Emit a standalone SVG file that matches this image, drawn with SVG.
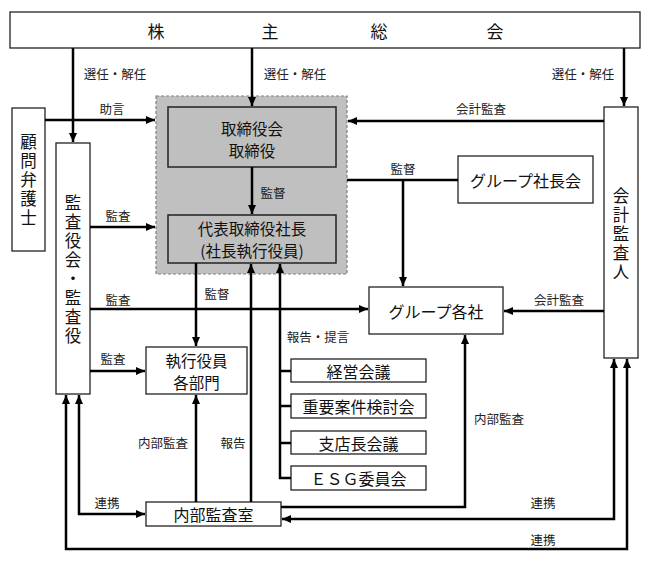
<svg xmlns="http://www.w3.org/2000/svg" width="649" height="562" viewBox="0 0 649 562">
<defs>
<marker id="ah" markerUnits="userSpaceOnUse" markerWidth="10" markerHeight="9" refX="9" refY="4" orient="auto-start-reverse">
<path d="M0,0 L9,4 L0,8 z" fill="#000"/>
</marker>
<style>
text{font-family:"Noto Sans CJK JP","Noto Sans",sans-serif;fill:#111;dominant-baseline:central;text-anchor:middle}
.box{fill:#fff;stroke:#222;stroke-width:1.3}
.gbox{fill:#bfbfbf;stroke:#222;stroke-width:1.5}
.t{font-size:16px}
.t2{font-size:15.5px}
.v{font-size:17px}
.vt{font-size:16.5px;writing-mode:vertical-rl;letter-spacing:2.5px}
.lb{font-size:12.5px;fill:#222}
.c{fill:none;stroke:#000;stroke-width:2.5}
.a{marker-end:url(#ah)}
.b{marker-start:url(#ah);marker-end:url(#ah)}
</style>
</defs>
<rect width="649" height="562" fill="#fff"/>

<g id="shareholders">
<rect class="box" x="10" y="12" width="630" height="36"/>
<text class="v" y="30"><tspan x="156">株</tspan><tspan x="270">主</tspan><tspan x="379">総</tspan><tspan x="495">会</tspan></text>
</g>

<g id="management-group">
<rect x="156" y="96" width="191" height="178" fill="#c0c0c0" stroke="#808080" stroke-width="1.2" stroke-dasharray="3,2"/>
</g>

<g id="board">
<rect class="gbox" x="168" y="107" width="168" height="60"/>
<text class="t2" x="252" y="128">取締役会</text>
<text class="t2" x="252" y="150">取締役</text>
</g>

<g id="president">
<rect class="gbox" x="168" y="215" width="168" height="48"/>
<text class="t2" x="252" y="228">代表取締役社長</text>
<text class="t2" x="252" y="250">(社長執行役員)</text>
</g>

<g id="legal-advisor">
<rect class="box" x="12" y="108" width="33" height="143"/>
<text class="vt" x="28.5" y="181">顧問弁護士</text>
</g>

<g id="auditors">
<rect class="box" x="56" y="143" width="34" height="251"/>
<text class="vt" x="73" y="270">監査役会・監査役</text>
</g>

<g id="accounting-auditor">
<rect class="box" x="604" y="107" width="34" height="251"/>
<text class="vt" x="621" y="235">会計監査人</text>
</g>

<g id="group-presidents">
<rect class="box" x="458" y="156" width="135" height="47"/>
<text class="t" x="525.5" y="180">グループ社長会</text>
</g>

<g id="group-companies">
<rect class="box" x="369" y="287" width="134" height="47"/>
<text class="t" x="436" y="311">グループ各社</text>
</g>

<g id="executive-officers">
<rect class="box" x="146" y="347" width="101" height="47"/>
<text class="t2" x="196.5" y="360">執行役員</text>
<text class="t2" x="196.5" y="382">各部門</text>
</g>

<g id="management-meeting">
<rect class="box" x="291" y="359" width="135" height="23"/>
<text class="t" x="358.5" y="371">経営会議</text>
</g>

<g id="important-matters">
<rect class="box" x="291" y="394" width="135" height="24"/>
<text class="t" x="358.5" y="406">重要案件検討会</text>
</g>

<g id="branch-managers">
<rect class="box" x="291" y="431" width="135" height="23"/>
<text class="t" x="358.5" y="443">支店長会議</text>
</g>

<g id="esg-committee">
<rect class="box" x="291" y="466" width="135" height="24"/>
<text class="t" x="358.5" y="478">ＥＳＧ委員会</text>
</g>

<g id="internal-audit">
<rect class="box" x="146" y="502" width="135" height="24"/>
<text class="t" x="213.5" y="514">内部監査室</text>
</g>

<g id="connectors">
<path class="c a" d="M73,48 V142"/>
<path class="c a" d="M252,48 V106"/>
<path class="c a" d="M624,48 V106"/>
<path class="c a" d="M45,120 H155"/>
<path class="c a" d="M604,121 H348"/>
<path class="c a" d="M252,167 V214"/>
<path class="c" d="M347,180 H458"/>
<path class="c a" d="M403,180 V286"/>
<path class="c a" d="M90,227 H155"/>
<path class="c a" d="M90,309 H368"/>
<path class="c a" d="M90,371 H145"/>
<path class="c a" d="M196,263 V346"/>
<path class="c a" d="M251,502 V264"/>
<path class="c a" d="M291,478 H280 V264"/>
<path class="c" d="M280,371 H291 M280,406 H291 M280,443 H291"/>
<path class="c a" d="M196,502 V395"/>
<path class="c a" d="M281,507 H465 V335"/>
<path class="c b" d="M79,395 V514 H145"/>
<path class="c b" d="M282,519 H614 V359"/>
<path class="c b" d="M66,395 V549 H627 V359"/>
<path class="c a" d="M604,311 H504"/>

<text class="lb" x="115" y="73">選任・解任</text>
<text class="lb" x="295" y="73">選任・解任</text>
<text class="lb" x="583" y="73">選任・解任</text>
<text class="lb" x="112" y="108">助言</text>
<text class="lb" x="481" y="108">会計監査</text>
<text class="lb" x="273" y="192">監督</text>
<text class="lb" x="403" y="168">監督</text>
<text class="lb" x="118" y="215">監査</text>
<text class="lb" x="118" y="299">監査</text>
<text class="lb" x="217" y="293">監督</text>
<text class="lb" x="113" y="358">監査</text>
<text class="lb" x="318" y="336">報告・提言</text>
<text class="lb" x="163" y="442">内部監査</text>
<text class="lb" x="233" y="442">報告</text>
<text class="lb" x="499" y="418">内部監査</text>
<text class="lb" x="559" y="299">会計監査</text>
<text class="lb" x="107" y="502">連携</text>
<text class="lb" x="543" y="502">連携</text>
<text class="lb" x="543" y="539">連携</text>
</g>
</svg>
